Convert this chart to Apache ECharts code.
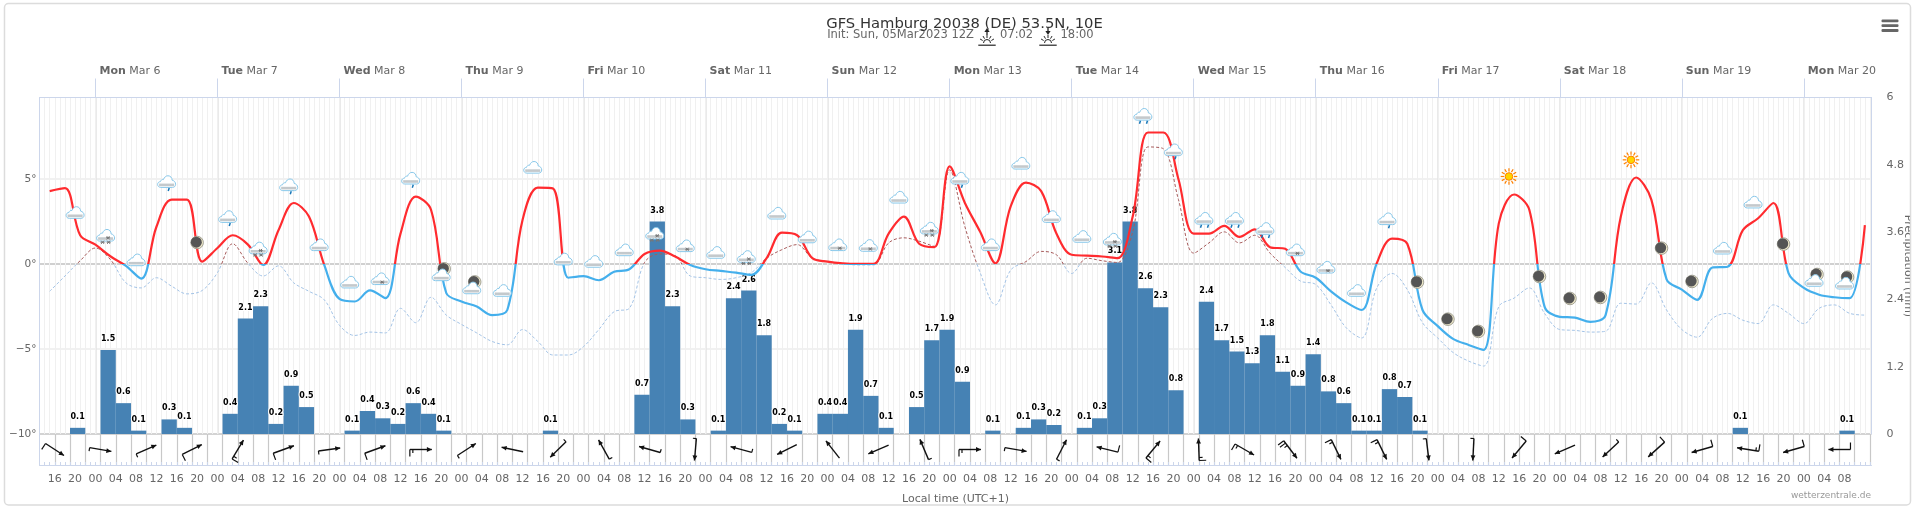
<!DOCTYPE html>
<html>
<head>
<meta charset="utf-8">
<title>GFS Hamburg</title>
<script src="https://cdn.jsdelivr.net/npm/echarts@6/dist/echarts.min.js"></script>
<style>
  html, body { margin: 0; padding: 0; background: #fff; }
  #chart { width: 1914px; height: 509px; }
</style>
</head>
<body>
<div id="chart"></div>
<script>
// all x values are hours counted from Mon Mar 6 00:00 local time
var startHour = -9;
var tempValues = [
  4.3, 4.47, 1.7,
  1.15, 0.45, -0.1, -0.85, 2.2, 3.8, 3.8, 0.15,
  0.95, 1.7, 1.15, -0.05, 2.0, 3.6, 2.8, -0.05,
  -2.05, -2.2, -1.55, -2.0, 1.8, 3.98, 3.2, -1.7,
  -2.2, -2.5, -3.0, -2.7, 2.6, 4.5, 4.45, -0.8,
  -0.7, -0.95, -0.45, -0.3, 0.6, 0.8, 0.45, -0.05,
  -0.3, -0.4, -0.5, -0.63, 0.35, 1.85, 1.7, 0.35,
  0.15, 0.05, 0.02, 0.02, 1.8, 2.8, 1.2, 1.0,
  5.75, 3.6, 1.9, 0.05, 3.4, 4.8, 4.3, 1.8,
  0.55, 0.5, 0.45, 0.35, 2.8, 7.75, 7.75, 5.0,
  1.8, 1.8, 2.25, 1.6, 2.05, 1.0, 0.9, -0.43,
  -0.8, -1.6, -2.25, -2.7, 0.05, 1.5, 1.2, -2.7,
  -3.65, -4.4, -4.75, -5.05, 2.4, 4.1, 3.2, -2.5,
  -3.1, -3.15, -3.4, -3.0, 2.8, 5.1, 3.8, -0.9,
  -1.5, -2.1, -0.2, -0.15, 2.0, 2.7, 3.6, -0.55,
  -1.4, -1.8, -1.95, -2.0, 2.3
];
var dewValues = [
  -1.6, -0.7, 0.2,
  0.95, 0.25, -1.1, -1.4, -0.8, -1.3, -1.75, -1.55,
  -0.5, 1.2, 0.05, -0.7, -0.1, -1.1, -1.6, -2.1,
  -3.6, -4.2, -4, -4.05, -2.6, -3.45, -1.95, -3,
  -3.55, -4.05, -4.55, -4.75, -3.85, -4.55, -5.35, -5.35,
  -4.85, -3.85, -2.8, -2.6, 0.1, 0.6, 0.5, -0.7,
  -0.8, -0.9, -0.8, -0.5, 0.35, 0.85, 1.15, 0.35,
  0.15, 0.02, -0.05, -0.05, 1.25, 1.55, 1.35, 1.05,
  5.55, 2.2, -0.5, -2.4, -0.35, 0.15, 0.75, 0.55,
  -0.55, 0.35, 0.2, 0.1, 1.9, 6.9, 6.8, 3.8,
  0.65, 1.25, 1.9, 1.25, 1.7, 0.65, -0.2, -1.0,
  -1.2, -2.4, -3.75, -4.35, -1.4, -0.55, -1.5, -3.45,
  -4.35, -5.2, -5.7, -6, -2.5, -2, -1.4, -2.9,
  -3.85, -3.9, -4, -3.95, -2.3, -2.35, -1.1, -2.7,
  -3.85, -4.3, -3.2, -2.9, -3.3, -3.5, -2.4, -2.9,
  -3.5, -2.6, -2.4, -2.9, -3
];
var barHours = [-3.5, 2.5, 5.5, 8.5, 14.5, 17.5, 26.5, 29.5, 32.5, 35.5, 38.5, 41.5, 50.5, 53.5, 56.5, 59.5, 62.5, 65.5, 68.5, 89.5,
  107.5, 110.5, 113.5, 116.5, 122.5, 125.5, 128.5, 131.5, 134.5, 137.5, 143.5, 146.5, 149.5, 152.5, 155.5, 161.5, 164.5, 167.5, 170.5,
  176.5, 182.5, 185.5, 188.5, 194.5, 197.5, 200.5, 203.5, 206.5, 209.5, 212.5, 218.5, 221.5, 224.5, 227.5, 230.5, 233.5, 236.5, 239.5,
  242.5, 245.5, 248.5, 251.5, 254.5, 257.5, 260.5, 323.5, 344.5];
var barValues = [0.11, 1.5, 0.55, 0.06, 0.26, 0.11, 0.36, 2.06, 2.28, 0.18, 0.86, 0.48, 0.06, 0.41, 0.28, 0.18, 0.55, 0.36, 0.06, 0.06,
  0.7, 3.79, 2.28, 0.26, 0.06, 2.42, 2.56, 1.76, 0.18, 0.06, 0.36, 0.36, 1.86, 0.68, 0.11, 0.48, 1.67, 1.86, 0.93,
  0.06, 0.11, 0.26, 0.16, 0.11, 0.28, 3.06, 3.79, 2.6, 2.26, 0.78, 2.36, 1.67, 1.47, 1.26, 1.76, 1.11, 0.86, 1.42,
  0.76, 0.55, 0.06, 0.06, 0.8, 0.66, 0.06, 0.11, 0.06];

// weather symbols, one every 6 hours from iconStart, height in degrees
var iconStart = -4;
var iconTemps = [3.04, 1.7, 0.25, 4.86, 1.27, 2.8, 0.95, 4.67, 1.14, -1.06, -0.86, 5.06, -0.63, -1.4, -1.55, 5.7, 0.3, 0.16, 0.84, 1.82,
  1.08, 0.69, 0.45, 3, 1.6, 1.14, 1.1, 3.94, 2.12, 5.06, 1.14, 5.94, 2.8, 1.63, 1.47, 8.82, 6.73, 2.7, 2.7, 2.1,
  0.84, -0.18, -1.55, 2.67, -1.06, -3.24, -3.96, 5.16, -0.73, -2.02, -1.96, 6.14, 0.94, -1.02, 0.94, 3.65, 1.18, -0.96, -1.12];
var iconKinds = ['cloud', 'snow', 'cloud', 'rain', 'moon', 'rain', 'snow', 'rain', 'cloud', 'cloud', 'flake', 'rain', 'mooncloud', 'mooncloud', 'cloud', 'cloud', 'cloud', 'cloud', 'cloud', 'snow',
  'flake', 'cloud', 'snow', 'cloud', 'cloud', 'flake', 'flake', 'cloud', 'snow', 'rain', 'cloud', 'cloud', 'cloud', 'cloud', 'snow', 'rain2', 'rain', 'rain2', 'rain2', 'rain2',
  'flake', 'flake', 'cloud', 'rain', 'moon', 'moon', 'moon', 'sun', 'moon', 'moon', 'moon', 'sun', 'moon', 'moon', 'cloud', 'cloud', 'moon', 'mooncloud', 'mooncloud'];

// wind barbs, one every 9 hours from windStart
var windStart = -8;
var windDirs = [123, 100, 66, 63, 31, 70, 82, 70, 90, 57, 282, 226, 331, 286, 185, 285, 243, 322, 247, 337, 90, 100, 27, 284, 40, 358, 120,
  143, 154, 154, 173, 183, 220, 247, 227, 228, 254, 279, 254, 270];
var windKnots = [10, 5, 5, 10, 15, 10, 5, 10, 15, 5, 0, 5, 5, 5, 5, 5, 0, 0, 0, 5, 15, 5, 5, 10, 15, 15, 15,
  25, 15, 15, 5, 5, 10, 0, 5, 10, 10, 15, 10, 10];

var dayNames = ['Mon', 'Tue', 'Wed', 'Thu', 'Fri', 'Sat', 'Sun', 'Mon', 'Tue', 'Wed', 'Thu', 'Fri', 'Sat', 'Sun', 'Mon'];
var dayDates = ['Mar 6', 'Mar 7', 'Mar 8', 'Mar 9', 'Mar 10', 'Mar 11', 'Mar 12', 'Mar 13', 'Mar 14', 'Mar 15', 'Mar 16', 'Mar 17', 'Mar 18', 'Mar 19', 'Mar 20'];
var tempTicks = [-10, -5, 0, 5];

var FONT = '"DejaVu Sans"';
var xMin = -11, xMax = 349.3;

function pairs(values, start, step) {
  return values.map(function (v, i) { return [start + step * i, v]; });
}
var dayTicks = dayNames.map(function (d, i) { return i * 24; });
var labelHours = [], hourTicks = [], windLines = [];
for (var h = -8; h <= 344; h += 4) labelHours.push(h);
for (var h2 = -11; h2 <= 349; h2++) hourTicks.push(h2);
for (var h3 = -8; h3 <= 349; h3 += 3) windLines.push(h3);

var CLOUD = 'M3.5 11.5C1.5 11.5 .5 10 .5 8.7C.5 7.2 1.7 6 3.2 6C3.5 4.6 4.7 3.8 6 4.1C6.8 1.8 8.5 .5 10.3 .5C12.6 .5 14.2 2.4 14.2 4.7C16 5 17.5 6.5 17.5 8.5C17.5 10.2 16.4 11.5 14.5 11.5Z';

function seg(x1, y1, x2, y2, color, w) {
  return { type: 'line', shape: { x1: x1, y1: y1, x2: x2, y2: y2 }, style: { stroke: color, lineWidth: w || 1 } };
}
function flake(x, y) {
  var c = '#777';
  return [seg(x - 2, y, x + 2, y, c), seg(x - 1.4, y - 1.6, x + 1.4, y + 1.6, c), seg(x - 1.4, y + 1.6, x + 1.4, y - 1.6, c)];
}
function cloud(dx, dy) {
  return [
    { type: 'path', shape: { pathData: CLOUD, x: dx - 9, y: dy - 6, width: 18, height: 12 }, style: { fill: '#fff', stroke: '#88c8ea', lineWidth: 1 } },
    { type: 'rect', shape: { x: dx - 7.5, y: dy + 2, width: 15, height: 2.6 }, style: { fill: '#c4c9cc' } }
  ];
}
function moon(dx, dy) {
  return [
    { type: 'circle', shape: { cx: dx, cy: dy, r: 6.3 }, style: { fill: '#efe9cb', stroke: '#8f8f84', lineWidth: 0.8 } },
    { type: 'circle', shape: { cx: dx - 0.8, cy: dy - 0.4, r: 5.5 }, style: { fill: '#555' } }
  ];
}
function sun() {
  var kids = [];
  for (var i = 0; i < 12; i++) {
    var a = i * Math.PI / 6;
    kids.push(seg(5 * Math.cos(a), 5 * Math.sin(a), 8.3 * Math.cos(a), 8.3 * Math.sin(a), '#ff8000', 1.2));
  }
  kids.push({ type: 'circle', shape: { cx: 0, cy: 0, r: 3.8 }, style: { fill: '#ffd400', stroke: '#ff8000', lineWidth: 1 } });
  return kids;
}
function drop(x, y) { return seg(x + 0.6, y, x - 0.4, y + 3, '#1877b8', 1.5); }

function iconKids(kind) {
  if (kind === 'sun') return sun();
  if (kind === 'moon') return moon(0, 0);
  if (kind === 'mooncloud') return moon(3, -6).concat(cloud(0, 0));
  var kids = cloud(0, 0);
  if (kind === 'rain') kids.push(drop(2, 6.5));
  if (kind === 'rain2') kids.push(drop(-3, 6.5), drop(4, 6.5));
  if (kind === 'snow') kids = kids.concat(flake(-3, 7), flake(3, 7), flake(2.5, 2.5));
  if (kind === 'flake') kids = kids.concat(flake(2, 3.5));
  return kids;
}
function renderIcon(params, api) {
  var p = api.coord([api.value(0), api.value(1)]);
  return { type: 'group', x: p[0], y: p[1], children: iconKids(iconKinds[params.dataIndex]) };
}

function renderWind(params, api) {
  var p = api.coord([api.value(0), 0.5]);
  var rad = windDirs[params.dataIndex] * Math.PI / 180;
  var knots = windKnots[params.dataIndex];
  var ux = Math.sin(rad), uy = -Math.cos(rad);     // where the arrow points
  var lx = uy, ly = -ux;                           // feather side
  var L = 11;
  var tx = p[0] - ux * L, ty = p[1] - uy * L, hx = p[0] + ux * L, hy = p[1] + uy * L;
  var c = '#111';
  var kids = [seg(tx, ty, hx, hy, c, 1.4)];
  kids.push({ type: 'polygon', shape: { points: [[hx, hy], [hx - ux * 5 + lx * 2.4, hy - uy * 5 + ly * 2.4], [hx - ux * 5 - lx * 2.4, hy - uy * 5 - ly * 2.4]] }, style: { fill: c } });
  var pos = 0;
  while (knots >= 10) {
    kids.push(seg(tx + ux * pos, ty + uy * pos, tx + ux * pos - lx * 7, ty + uy * pos - ly * 7, c, 1.2));
    knots -= 10; pos += 3;
  }
  if (knots >= 5) kids.push(seg(tx + ux * pos, ty + uy * pos, tx + ux * pos - lx * 3.5, ty + uy * pos - ly * 3.5, c, 1.2));
  return { type: 'group', children: kids };
}

function riseIcon(cx, up) {
  var c = '#222', kids = [];
  var cy = 41;
  kids.push(seg(cx, up ? 31 : 28, cx, up ? 35 : 32, c, 1.3));
  kids.push({ type: 'polygon', shape: { points: up ? [[cx, 28], [cx - 2.6, 32], [cx + 2.6, 32]] : [[cx, 35], [cx - 2.6, 31], [cx + 2.6, 31]] }, style: { fill: c } });
  kids.push({ type: 'arc', shape: { cx: cx, cy: cy + 2, r: 3.5, startAngle: Math.PI, endAngle: 0, clockwise: true }, style: { stroke: c, lineWidth: 1, fill: null } });
  [-150, -120, -90, -60, -30].forEach(function (d) {
    var a = d * Math.PI / 180;
    kids.push(seg(cx + 5 * Math.cos(a), cy + 2 + 5 * Math.sin(a), cx + 8 * Math.cos(a), cy + 2 + 8 * Math.sin(a), c, 1));
  });
  kids.push(seg(cx - 8.7, 45.2, cx + 8.7, 45.2, c, 1.2));
  return kids;
}

var chart = echarts.init(document.getElementById('chart'));
var axisBlue = '#ccd6eb', labelGrey = '#666';
var zones = function (below, above) {
  return { pieces: [{ min: -30, max: 0, color: below }, { min: 0, max: 30, color: above }] };
};

chart.setOption({
  animation: false,
  backgroundColor: '#fff',
  textStyle: { fontFamily: FONT },
  title: {
    text: 'GFS Hamburg 20038 (DE) 53.5N, 10E', left: 959.5, top: 12, textAlign: 'center',
    textStyle: { fontFamily: FONT, fontSize: 14.75, fontWeight: 'normal', color: '#333' }
  },
  grid: [
    { left: 39.5, top: 97.5, width: 1832, height: 336.5, outerBoundsMode: 'none' },
    { left: 39.5, top: 434, width: 1832, height: 31, outerBoundsMode: 'none' }
  ],
  xAxis: [
    {
      gridIndex: 0, type: 'value', position: 'top', min: xMin, max: xMax,
      axisLine: { show: true, onZero: false, lineStyle: { color: axisBlue } },
      axisTick: { show: true, length: 19, lineStyle: { color: axisBlue }, customValues: dayTicks },
      axisLabel: {
        customValues: dayTicks, align: 'left', margin: 21, color: labelGrey, fontSize: 11, fontFamily: FONT,
        formatter: function (v) { var i = v / 24; return '{b|' + dayNames[i] + '} ' + dayDates[i]; },
        rich: { b: { fontWeight: 'bold', fontSize: 11, color: labelGrey, fontFamily: FONT } },
        padding: [0, 0, 0, 4]
      },
      splitLine: { show: true, lineStyle: { color: '#e3e3e3', width: 1.5 } }
    },
    {
      gridIndex: 0, type: 'value', position: 'bottom', min: xMin, max: xMax,
      axisLine: { show: false, onZero: false },
      axisTick: { show: false, customValues: hourTicks },
      axisLabel: { show: false },
      splitLine: { show: true, lineStyle: { color: '#f0f0f0', width: 1 } }
    },
    {
      gridIndex: 1, type: 'value', position: 'bottom', min: xMin, max: xMax,
      name: 'Local time (UTC+1)', nameLocation: 'middle', nameGap: 29,
      nameTextStyle: { color: labelGrey, fontSize: 11, fontFamily: FONT },
      axisLine: { show: true, onZero: false, lineStyle: { color: axisBlue } },
      axisTick: { show: true, inside: true, length: 3, lineStyle: { color: axisBlue }, customValues: hourTicks },
      axisLabel: {
        customValues: labelHours, margin: 9, color: labelGrey, fontSize: 11, fontFamily: FONT,
        formatter: function (v) { var t = ((v % 24) + 24) % 24; return (t < 10 ? '0' : '') + t; }
      },
      splitLine: { show: false }
    },
    {
      gridIndex: 1, type: 'value', position: 'top', min: xMin, max: xMax,
      axisLine: { show: false, onZero: false },
      axisTick: { show: false, customValues: windLines },
      axisLabel: { show: false },
      splitLine: { show: true, lineStyle: { color: '#c8c8c8', width: 1.2 } }
    }
  ],
  yAxis: [
    {
      gridIndex: 0, type: 'value', min: -10, max: 9.81, position: 'left',
      axisLine: { show: true, onZero: false, lineStyle: { color: axisBlue } },
      axisTick: { show: false, customValues: tempTicks },
      axisLabel: {
        customValues: tempTicks, margin: 3, color: labelGrey, fontSize: 10.5, fontFamily: FONT,
        formatter: function (v) { return (v < 0 ? '\u2212' + (-v) : v) + '\u00b0'; }
      },
      // -10 and 0 carry the darker base lines
      splitLine: { show: true, lineStyle: { color: ['#c4c4c4', '#ececec', '#c0c0c0', '#ececec'], width: 1.5 } }
    },
    {
      gridIndex: 0, type: 'value', min: 0, max: 6, interval: 1.2, position: 'right',
      axisLine: { show: true, onZero: false, lineStyle: { color: axisBlue } },
      axisTick: { show: false },
      axisLabel: { margin: 15, color: labelGrey, fontSize: 11, fontFamily: FONT },
      splitLine: { show: false }
    },
    {
      gridIndex: 1, type: 'value', min: 0, max: 1, position: 'left',
      axisLine: { show: true, onZero: false, lineStyle: { color: axisBlue } },
      axisTick: { show: false }, axisLabel: { show: false }, splitLine: { show: false }
    }
  ],
  visualMap: [
    Object.assign({ show: false, type: 'piecewise', seriesIndex: 1, dimension: 1 }, zones('#44afec', '#ff2b2f')),
    Object.assign({ show: false, type: 'piecewise', seriesIndex: 2, dimension: 1 }, zones('#a3c3e6', '#a65a5a'))
  ],
  series: [
    {
      name: 'Precipitation', type: 'bar', xAxisIndex: 0, yAxisIndex: 1, barWidth: 15.3, z: 2,
      data: barHours.map(function (x, i) { return [x, barValues[i]]; }),
      itemStyle: { color: '#4682b4' },
      label: {
        show: true, position: 'top', distance: 7, fontSize: 8, fontWeight: 'bold', color: '#000', fontFamily: FONT,
        textBorderColor: '#fff', textBorderWidth: 2,
        formatter: function (p) { return p.value[1].toFixed(1); }
      }
    },
    {
      name: 'Temperature', type: 'line', xAxisIndex: 0, yAxisIndex: 0, smooth: 0.35, showSymbol: false, z: 4,
      data: pairs(tempValues, startHour, 3), lineStyle: { width: 2.2 }
    },
    {
      name: 'Dew point', type: 'line', xAxisIndex: 0, yAxisIndex: 0, smooth: 0.35, showSymbol: false, z: 3,
      data: pairs(dewValues, startHour, 3), lineStyle: { width: 1, type: [3, 2] }
    },
    {
      name: 'Symbols', type: 'custom', xAxisIndex: 0, yAxisIndex: 0, z: 5, clip: false, silent: true,
      data: pairs(iconTemps, iconStart, 6), renderItem: renderIcon
    },
    {
      name: 'Wind', type: 'custom', xAxisIndex: 2, yAxisIndex: 2, z: 5, clip: false, silent: true,
      data: pairs(windDirs, windStart, 9), renderItem: renderWind
    }
  ],
  graphic: [
    // the axis name runs under the card edge, as in the original
    { type: 'text', z: 9, x: 1908, y: 266, rotation: -Math.PI / 2, style: { text: 'Precipitation (mm)', align: 'center', verticalAlign: 'middle', fill: labelGrey, fontSize: 11, fontFamily: FONT } },
    { type: 'rect', z: 10, silent: true, shape: { x: 1910.4, y: 150, width: 3.6, height: 230 }, style: { fill: '#fff' } },
    { type: 'rect', z: 11, silent: true, shape: { x: 4.5, y: 3.5, width: 1906, height: 501.5, r: 4 }, style: { fill: 'transparent', stroke: '#dcdcdc', lineWidth: 1.5 } },
    { type: 'text', x: 974, y: 35.5, style: { text: 'Init: Sun, 05Mar2023 12Z', align: 'right', verticalAlign: 'middle', fill: labelGrey, fontSize: 11.5, fontFamily: FONT } },
    { type: 'text', x: 1000, y: 35.5, style: { text: '07:02', verticalAlign: 'middle', fill: labelGrey, fontSize: 11.5, fontFamily: FONT } },
    { type: 'text', x: 1060.5, y: 35.5, style: { text: '18:00', verticalAlign: 'middle', fill: labelGrey, fontSize: 11.5, fontFamily: FONT } },
    { type: 'group', children: riseIcon(987, true) },
    { type: 'group', children: riseIcon(1048, false) },
    { type: 'rect', shape: { x: 1881.5, y: 19.5, width: 17, height: 2.8, r: 1 }, style: { fill: labelGrey } },
    { type: 'rect', shape: { x: 1881.5, y: 24.3, width: 17, height: 2.8, r: 1 }, style: { fill: labelGrey } },
    { type: 'rect', shape: { x: 1881.5, y: 29.1, width: 17, height: 2.8, r: 1 }, style: { fill: labelGrey } },
    { type: 'text', x: 1871, y: 496, style: { text: 'wetterzentrale.de', align: 'right', verticalAlign: 'middle', fill: '#999', fontSize: 9, fontFamily: FONT } }
  ]
});
</script>
</body>
</html>
